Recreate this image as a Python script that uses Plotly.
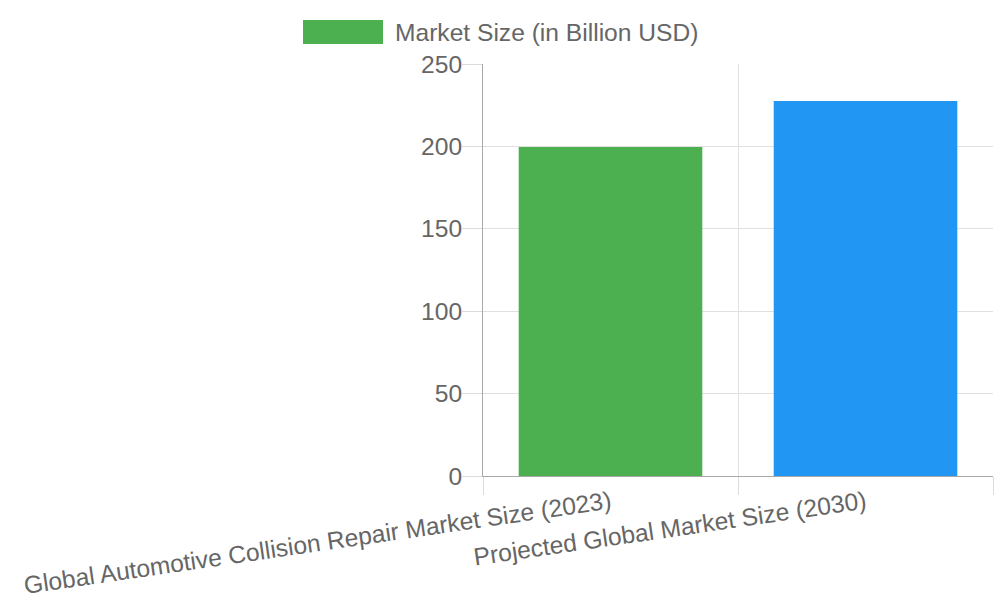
import plotly.graph_objects as go

categories = ["Global Automotive Collision Repair Market Size (2023)",
              "Projected Global Market Size (2030)"]
values = [199.6, 227.5]
colors = ["#4CAF50", "#2196F3"]
series_name = "Market Size (in Billion USD)"
y_ticks = [0, 50, 100, 150, 200, 250]

FONT = "Liberation Sans, Arial, Helvetica, sans-serif"
GRAY = "#666666"
FS = 24.6

fig = go.Figure()
fig.add_trace(go.Bar(
    x=categories, y=values, name=series_name,
    marker=dict(color=colors, line=dict(width=0)),
    width=0.72, showlegend=False,
))

fig.update_layout(
    width=1000, height=600,
    margin=dict(l=483, r=7, t=64, b=124),
    paper_bgcolor="white", plot_bgcolor="white",
    font=dict(family=FONT, size=FS, color=GRAY),
)
fig.update_xaxes(
    type="category", range=[-0.5, 1.5],
    tickson="boundaries", ticks="outside", ticklen=18, tickcolor="#dcdcdc",
    showgrid=True, gridcolor="#e0e0e0", gridwidth=1,
    showline=True, linecolor="#a8a8a8", linewidth=1,
    tickangle=-8.3, tickfont=dict(size=FS, color=GRAY),
    ticklabelstandoff=2,
    automargin=False,
)
fig.update_yaxes(
    range=[0, 250], tickvals=y_ticks, ticktext=[str(v) for v in y_ticks],
    ticks="outside", ticklen=20, tickcolor="#dcdcdc",
    showgrid=True, gridcolor="#e0e0e0", gridwidth=1,
    showline=True, linecolor="#a8a8a8", linewidth=1,
    zeroline=True, zerolinecolor="#a8a8a8", zerolinewidth=1,
    tickfont=dict(size=FS, color=GRAY),
    ticklabelstandoff=-5,
    automargin=False,
)

# legend drawn as box + text
fig.add_shape(type="rect", xref="paper", yref="paper",
              x0=(303 - 483) / 510, x1=(383 - 483) / 510,
              y0=(476 - 44) / 412, y1=(476 - 20) / 412,
              fillcolor=colors[0], line=dict(width=0))
fig.add_annotation(xref="paper", yref="paper", x=(393 - 483) / 510, y=(476 - 32) / 412,
                   text=series_name, showarrow=False, xanchor="left", yanchor="middle",
                   font=dict(size=FS, color=GRAY, family=FONT))

fig.write_html("out.html")
